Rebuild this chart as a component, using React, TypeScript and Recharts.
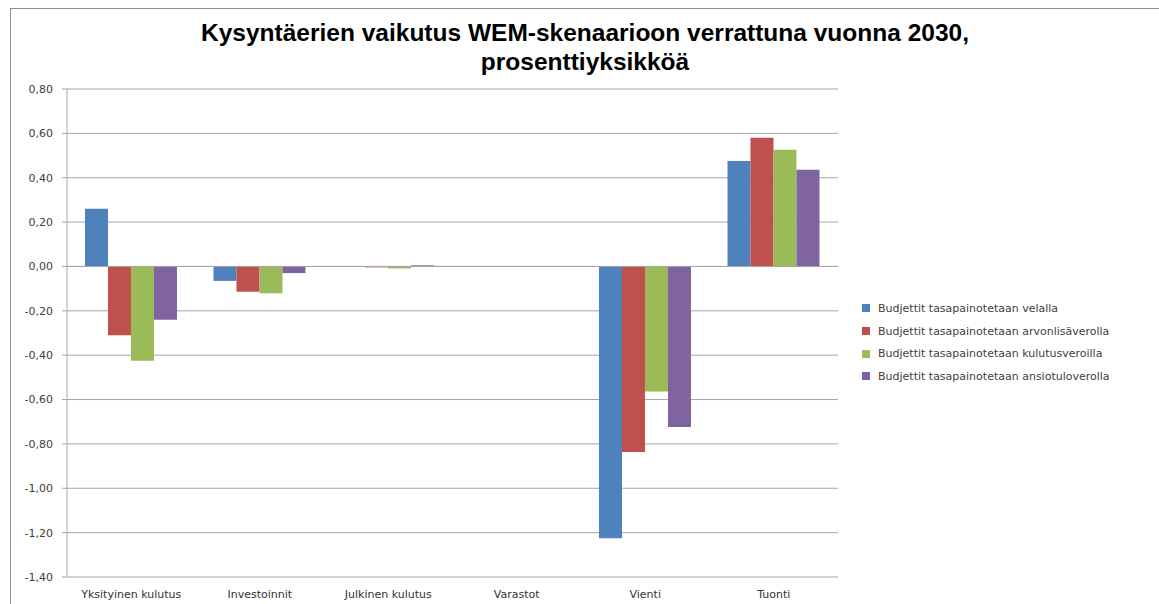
import React from "react";
import {
  BarChart,
  Bar,
  XAxis,
  YAxis,
  CartesianGrid,
  ReferenceLine,
} from "recharts";

const categories = [
  "Yksityinen kulutus",
  "Investoinnit",
  "Julkinen kulutus",
  "Varastot",
  "Vienti",
  "Tuonti",
];

const velalla = [0.26, -0.065, -0.002, 0, -1.225, 0.475];
const arvonlisaverolla = [-0.31, -0.114, -0.004, 0, -0.836, 0.58];
const kulutusveroilla = [-0.425, -0.121, -0.009, 0, -0.564, 0.526];
const ansiotuloverolla = [-0.24, -0.03, 0.005, 0, -0.724, 0.436];

const yTicks = [0.8, 0.6, 0.4, 0.2, 0, -0.2, -0.4, -0.6, -0.8, -1.0, -1.2, -1.4];

const series = [
  { key: "velalla", name: "Budjettit tasapainotetaan velalla", color: "#4F81BD" },
  { key: "arvonlisaverolla", name: "Budjettit tasapainotetaan arvonlisäverolla", color: "#C0504D" },
  { key: "kulutusveroilla", name: "Budjettit tasapainotetaan kulutusveroilla", color: "#9BBB59" },
  { key: "ansiotuloverolla", name: "Budjettit tasapainotetaan ansiotuloverolla", color: "#8064A2" },
];

const data = categories.map((c, i) => ({
  category: c,
  velalla: velalla[i],
  arvonlisaverolla: arvonlisaverolla[i],
  kulutusveroilla: kulutusveroilla[i],
  ansiotuloverolla: ansiotuloverolla[i],
}));

const fmt = (v: number) => v.toFixed(2).replace(".", ",");

const font = "DejaVu Sans, Verdana, sans-serif";

const LegendBox = () => (
  <div
    style={{
      position: "absolute",
      left: 862,
      top: 297,
      fontFamily: font,
      fontSize: 11,
      color: "#404040",
      whiteSpace: "nowrap",
    }}
  >
    {series.map((s) => (
      <div key={s.key} style={{ display: "flex", alignItems: "center", height: 22.7 }}>
        <span
          style={{
            display: "inline-block",
            width: 8,
            height: 8,
            background: s.color,
            marginRight: 8,
          }}
        />
        <span>{s.name}</span>
      </div>
    ))}
  </div>
);

const App: React.FC = () => {
  return (
    <div
      style={{
        position: "absolute",
        left: 0,
        top: 0,
        width: 1159,
        height: 604,
        overflow: "hidden",
        background: "#fff",
      }}
    >
      <div
        style={{
          position: "absolute",
          left: 10,
          top: 8,
          width: 1149,
          height: 596,
          borderLeft: "1px solid #8c8c8c",
          borderTop: "1px solid #8c8c8c",
        }}
      />
      <div
        style={{
          position: "absolute",
          left: 0,
          top: 18,
          width: 1170,
          textAlign: "center",
          fontFamily: "'Liberation Sans', Arial, sans-serif",
          fontWeight: "bold",
          fontSize: 24.5,
          lineHeight: "29px",
          color: "#000",
        }}
      >
        Kysyntäerien vaikutus WEM-skenaarioon verrattuna vuonna 2030,
        <br />
        prosenttiyksikköä
      </div>
      <BarChart
        width={1159}
        height={604}
        data={data}
        margin={{ top: 89, right: 321, bottom: 2, left: 10 }}
        barCategoryGap="14%"
        barGap={0}
        style={{ position: "absolute", left: 0, top: 0 }}
      >
        <CartesianGrid vertical={false} stroke="#a6a6a6" strokeWidth={1} />
        <XAxis
          dataKey="category"
          height={25}
          axisLine={false}
          tickLine={false}
          interval={0}
          tick={{ fontSize: 11, fill: "#333", fontFamily: font }}
          tickMargin={7}
        />
        <YAxis
          width={57}
          domain={[-1.4, 0.8]}
          ticks={yTicks}
          tickFormatter={fmt}
          allowDataOverflow
          axisLine={{ stroke: "#a6a6a6" }}
          tickLine={{ stroke: "#a6a6a6" }}
          tickSize={5}
          tickMargin={9}
          tick={{ fontSize: 11, fill: "#404040", fontFamily: font }}
        />
        <ReferenceLine y={0} stroke="#a6a6a6" />
        {series.map((s) => (
          <Bar
            key={s.key}
            dataKey={s.key}
            name={s.name}
            fill={s.color}
            isAnimationActive={false}
          />
        ))}
      </BarChart>
      <LegendBox />
    </div>
  );
};

export default App;
